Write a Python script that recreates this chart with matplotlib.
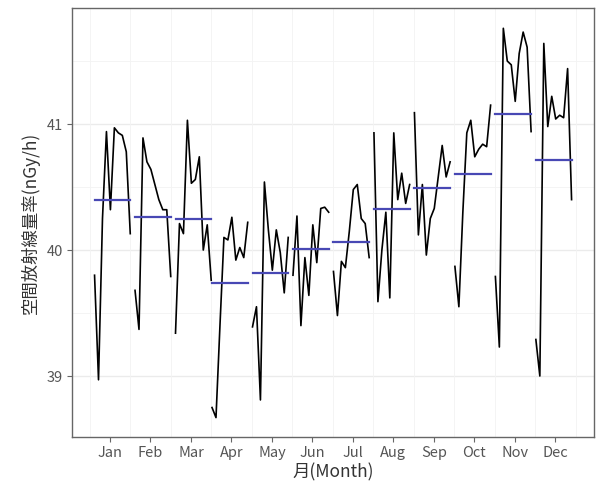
import matplotlib
matplotlib.use('Agg')
import matplotlib.pyplot as plt
import numpy as np

plt.rcParams['font.family'] = ['Noto Sans CJK JP', 'DejaVu Sans']

month_labels = ['Jan', 'Feb', 'Mar', 'Apr', 'May', 'Jun',
                'Jul', 'Aug', 'Sep', 'Oct', 'Nov', 'Dec']

# monthly air dose rate (nGy/h), one value per year, in year order
jan = [39.80, 38.97, 40.25, 40.94, 40.32, 40.97, 40.93, 40.91, 40.78, 40.13]
feb = [39.68, 39.37, 40.89, 40.70, 40.64, 40.52, 40.40, 40.32, 40.32, 39.79]
mar = [39.34, 40.21, 40.13, 41.03, 40.53, 40.56, 40.74, 40.00, 40.20, 39.76]
apr = [38.75, 38.67, 39.40, 40.10, 40.08, 40.26, 39.92, 40.02, 39.94, 40.22]
may = [39.39, 39.55, 38.81, 40.54, 40.16, 39.84, 40.16, 39.98, 39.66, 40.10]
jun = [39.80, 40.27, 39.40, 39.94, 39.64, 40.20, 39.90, 40.33, 40.34, 40.30]
jul = [39.83, 39.48, 39.91, 39.86, 40.15, 40.48, 40.52, 40.25, 40.21, 39.94]
aug = [40.93, 39.59, 40.00, 40.30, 39.62, 40.93, 40.40, 40.61, 40.37, 40.52]
sep = [41.09, 40.12, 40.52, 39.96, 40.25, 40.33, 40.58, 40.83, 40.58, 40.70]
oct_ = [39.87, 39.55, 40.30, 40.93, 41.03, 40.74, 40.80, 40.84, 40.82, 41.15]
nov = [39.79, 39.23, 41.76, 41.50, 41.47, 41.18, 41.56, 41.73, 41.61, 40.94]
dec = [39.29, 39.00, 41.64, 40.98, 41.22, 41.04, 41.07, 41.05, 41.44, 40.40]

# first year with data for each month (series runs Apr 2011 - Mar 2021)
first_year = [2012, 2012, 2012, 2011, 2011, 2011,
              2011, 2011, 2011, 2011, 2011, 2011]

series = [jan, feb, mar, apr, may, jun, jul, aug, sep, oct_, nov, dec]

fig = plt.figure(figsize=(5.98, 4.83), dpi=100)
ax = fig.add_axes([72 / 598, (483 - 437) / 483, 522 / 598, 429 / 483])

base_year = min(first_year)
for m, (vals, fy) in enumerate(zip(series, first_year), start=1):
    years = np.arange(fy, fy + len(vals))
    xs = m - 0.48 + 0.098 * (years - base_year)
    ax.plot(xs, vals, color='black', lw=1.2, zorder=3)
    ax.plot([xs[0], xs[-1]], [np.mean(vals)] * 2, color='#4848B4', lw=1.6, zorder=4)

ax.set_xlim(0.061, 12.956)
ax.set_ylim(38.516, 41.921)

ax.set_xticks(range(1, 13))
ax.set_xticklabels(month_labels)
ax.set_yticks([39, 40, 41])

for y in [39, 40, 41]:
    ax.axhline(y, color='#EBEBEB', lw=1.0, zorder=0)
for y in [39.5, 40.5, 41.5]:
    ax.axhline(y, color='#F3F3F3', lw=0.6, zorder=0)
for x in np.arange(0.5, 13.0, 1.0):
    ax.axvline(x, color='#F3F3F3', lw=0.6, zorder=0)

ax.tick_params(axis='both', which='major', length=3.5, width=0.8,
               color='#666666', labelcolor='#555555', labelsize=10.5, pad=3)
for s in ax.spines.values():
    s.set_color('#666666')
    s.set_linewidth(1.0)

ax.set_xlabel('月(Month)', fontsize=12.5, color='#333333', labelpad=2)
ax.set_ylabel('空間放射線量率(nGy/h)', fontsize=12.5, color='#333333', labelpad=5)

fig.savefig('out.png', dpi=100)
